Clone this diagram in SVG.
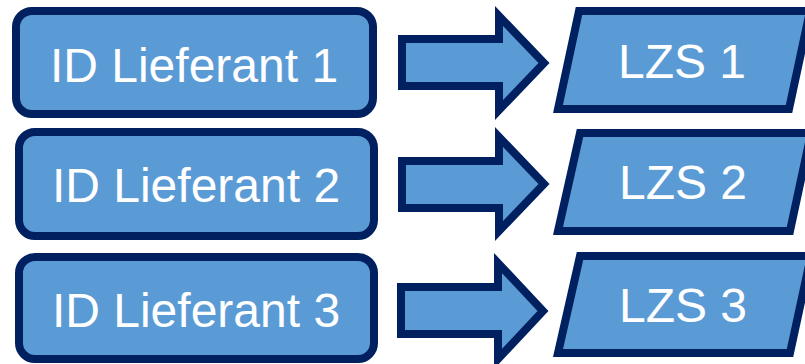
<svg xmlns="http://www.w3.org/2000/svg" width="805" height="364" viewBox="0 0 805 364">
<style>
.box{fill:#5B9BD5;stroke:#002060;stroke-width:8;stroke-linejoin:miter}
.arr{fill:#5B9BD5;stroke:#002060;stroke-width:8;stroke-linejoin:miter;stroke-miterlimit:10}
.t{font-family:"Liberation Sans",Arial,sans-serif;font-size:48px;fill:#FFFFFF;text-anchor:middle}
</style>
<rect width="805" height="364" fill="#FFFFFF"/>
<g id="lief1">
<rect class="box" x="16" y="11" width="357" height="103" rx="16" ry="16"/>
<text class="t" x="194" y="82">ID Lieferant 1</text>
</g>
<g id="lief2">
<rect class="box" x="19" y="132" width="355" height="104" rx="16" ry="16"/>
<text class="t" x="196" y="202">ID Lieferant 2</text>
</g>
<g id="lief3">
<rect class="box" x="19" y="257" width="355" height="102" rx="16" ry="16"/>
<text class="t" x="196" y="327">ID Lieferant 3</text>
</g>
<g id="lzs1">
<polygon class="box" points="579,11 810,11 789,109 558,109"/>
<text class="t" x="682" y="78">LZS 1</text>
</g>
<g id="lzs2">
<polygon class="box" points="580,133 811,133 790,231 558,231"/>
<text class="t" x="683" y="199">LZS 2</text>
</g>
<g id="lzs3">
<polygon class="box" points="580,256 811,256 790,353 558,353"/>
<text class="t" x="683" y="322">LZS 3</text>
</g>
<g id="connectors">
<polygon class="arr" points="402,39 499,39 499,16 544,63 499,110 499,86 402,86"/>
<polygon class="arr" points="402,161 499,161 499,137 544,184 499,231 499,208 402,208"/>
<polygon class="arr" points="401,287 498,287 498,263 543,311 498,359 498,334 401,334"/>
</g>
</svg>
